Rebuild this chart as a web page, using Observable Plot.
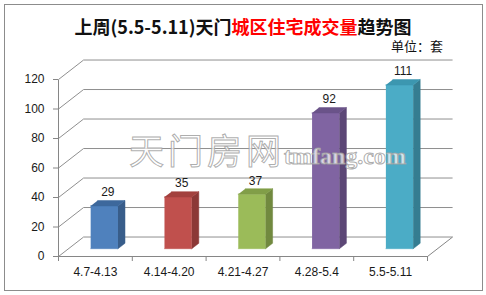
<!DOCTYPE html>
<html><head><meta charset="utf-8">
<script src="https://cdn.jsdelivr.net/npm/d3@7"></script>
<script src="https://cdn.jsdelivr.net/npm/@observablehq/plot@0.6"></script>
<style>
html,body{margin:0;padding:0;background:#fff;}
#wrap{position:relative;width:486px;height:295px;overflow:hidden;font-family:"Liberation Sans",Arial,sans-serif;}
#frame{position:absolute;left:4px;top:4px;width:477px;height:285px;border:1px solid #8c8c8c;box-sizing:content-box;}
#title{position:absolute;left:0;width:486px;top:16px;text-align:center;font-family:"Noto Sans CJK SC",sans-serif;font-weight:bold;font-size:18px;line-height:20px;color:#111;white-space:nowrap;}
#title .r{color:#ff0000;}
#unit{position:absolute;left:391px;top:39px;font-family:"Noto Sans CJK SC",sans-serif;font-size:13px;line-height:14px;color:#111;}
#chart{position:absolute;left:0;top:0;}
.wm{position:absolute;white-space:nowrap;color:rgba(255,255,255,0.72);-webkit-text-stroke:1px rgba(160,160,160,0.85);}
#wm1{left:129px;top:131px;font-family:"Noto Sans CJK SC",sans-serif;font-size:35px;line-height:36px;letter-spacing:4px;}
#wm2{left:284px;top:146px;font-family:"Liberation Serif",serif;font-weight:bold;font-size:24px;line-height:20px;}
</style></head>
<body>
<div id="wrap">
  <div id="frame"></div>
  <div id="chart"></div>
  <div id="title">上周(5.5-5.11)天门<span class="r">城区住宅成交量</span>趋势图</div>
  <div id="unit">单位：套</div>
  <div class="wm" id="wm1">天门房网</div>
  <div class="wm" id="wm2">tmfang.com</div>
</div>
<script>
const categories = ["4.7-4.13", "4.14-4.20", "4.21-4.27", "4.28-5.4", "5.5-5.11"];
const values = [29, 35, 37, 92, 111];
const frontColors = ["#4f81bd", "#c0504d", "#9bbb59", "#8064a2", "#4bacc6"];
const sideColors = ["#385d8a", "#8c3836", "#71893f", "#5c4776", "#357d91"];
const topColors = ["#3d689c", "#a3413e", "#819e48", "#6a5389", "#3c97b0"];
const yTicks = [0, 20, 40, 60, 80, 100, 120];

// depth of the 3D box (in scale units) and bar geometry within a category
const DX = 0.34, DY = 13.2;
const A = 0.30, B = 0.67, D0 = 0.40, D1 = 0.68;
const P = (x, y, d) => ({x: x + d * DX, y: y + d * DY});

const n = categories.length;
const grid = [];
for (const t of yTicks) {
  grid.push({x1: 0, y1: t, x2: DX, y2: t + DY});
  grid.push({x1: DX, y1: t + DY, x2: n + DX, y2: t + DY});
}
const frame = [
  {x1: 0, y1: 0, x2: n, y2: 0},
  {x1: n, y1: 0, x2: n + DX, y2: DY},
  {x1: 0, y1: 0, x2: 0, y2: yTicks[yTicks.length - 1]}
];

const polys = [];
values.forEach((v, i) => {
  const faces = [
    {id: `f${i}`, fill: frontColors[i], pts: [P(i + A, 0, D0), P(i + B, 0, D0), P(i + B, v, D0), P(i + A, v, D0)]},
    {id: `s${i}`, fill: sideColors[i], pts: [P(i + B, 0, D0), P(i + B, 0, D1), P(i + B, v, D1), P(i + B, v, D0)]},
    {id: `t${i}`, fill: topColors[i], pts: [P(i + A, v, D0), P(i + B, v, D0), P(i + B, v, D1), P(i + A, v, D1)]}
  ];
  for (const f of faces) for (const p of f.pts) polys.push({id: f.id, fill: f.fill, x: p.x, y: p.y});
});

const chart = Plot.plot({
  width: 486, height: 295,
  marginLeft: 58, marginRight: 59, marginTop: 79, marginBottom: 39,
  style: {background: "transparent", fontFamily: "'Liberation Sans', Arial, sans-serif"},
  x: {type: "linear", domain: [0, n], axis: null},
  y: {type: "linear", domain: [0, 120], axis: null},
  color: {type: "identity"},
  marks: [
    Plot.link(grid, {x1: "x1", y1: "y1", x2: "x2", y2: "y2", stroke: "#8f8f8f", strokeWidth: 1}),
    Plot.link(frame, {x1: "x1", y1: "y1", x2: "x2", y2: "y2", stroke: "#868686", strokeWidth: 1}),
    Plot.axisY(yTicks, {tickSize: 5, tickPadding: 9, fontSize: 12, stroke: "#868686", fill: "#1a1a1a"}),
    Plot.axisX(d3.range(n + 1), {tickSize: 5, tickFormat: () => "", stroke: "#868686"}),
    Plot.axisX(d3.range(n).map(i => i + 0.5), {tickSize: 0, tickPadding: 11, fontSize: 12, fill: "#1a1a1a", tickFormat: d => categories[Math.floor(d)]}),
    Plot.line(polys, {x: "x", y: "y", z: "id", fill: "fill", stroke: "fill", strokeWidth: 0.5}),
    Plot.text(values, {
      x: (d, i) => i + (A + B) / 2 + (D0 + D1) / 2 * DX,
      y: d => d + D1 * DY,
      text: d => String(d), dy: -8, fontSize: 12, fill: "#1a1a1a"
    })
  ]
});
document.getElementById("chart").appendChild(chart);
</script>
</body></html>
